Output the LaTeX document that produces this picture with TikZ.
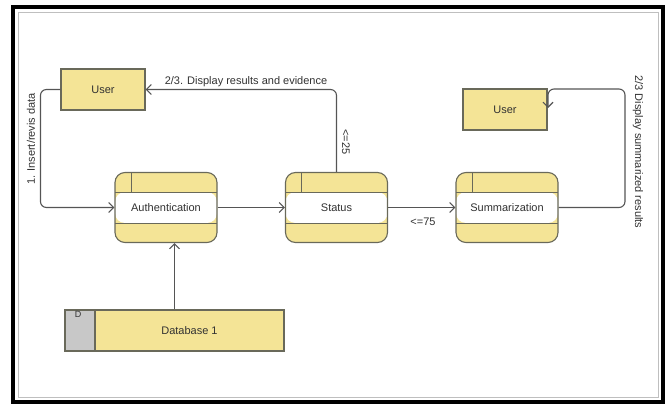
\documentclass[tikz,border=0pt]{standalone}
\usepackage{fontspec}
\setmainfont{Liberation Sans}
\usepackage{tikz}
\usetikzlibrary{arrows.meta}
\usetikzlibrary{calc}

\definecolor{boxfill}{RGB}{244,228,150}
\definecolor{boxline}{RGB}{105,105,90}
\definecolor{wire}{RGB}{85,85,85}
\definecolor{keyfill}{RGB}{200,200,200}
\definecolor{txt}{RGB}{50,50,50}

\begin{document}
\begin{tikzpicture}[x=1pt, y=-1pt,
 every node/.style={font=\fontsize{11}{13}\selectfont, text=txt},
entity/.style={rectangle, inner sep=0pt, minimum width=84pt, minimum height=41pt, draw=boxline, fill=boxfill, line width=1.1pt},
proc/.style={rectangle, inner sep=0pt, minimum width=102pt, minimum height=70pt, rounded corners=10pt, draw=boxline, fill=boxfill, line width=1.1pt,
  path picture={
   \fill[white] ([yshift=15.5pt]path picture bounding box.west) rectangle ([yshift=-15.5pt]path picture bounding box.east);
   \draw[boxline, line width=0.9pt] ([yshift=15.5pt]path picture bounding box.west) -- ([yshift=15.5pt]path picture bounding box.east);
   \draw[boxline, line width=0.9pt] ([yshift=-15.5pt]path picture bounding box.west) -- ([yshift=-15.5pt]path picture bounding box.east);
   \draw[boxline, line width=0.9pt] ([xshift=16pt]path picture bounding box.north west) -- ([xshift=16pt, yshift=15.5pt]path picture bounding box.west);
  }},
store/.style={rectangle, inner sep=0pt, minimum height=41pt, draw=boxline, line width=1.1pt},
lbl/.style={inner sep=1pt},
arrow/.style={-{Straight Barb[length=5pt, width=10pt]}, draw=wire, line width=1.1pt}]

% frame
\useasboundingbox (0,0) rectangle (668,406);
\draw[black!25, line width=0.8pt] (18,12) rectangle (658,397);
\draw[black, line width=3.5pt] (13,7) rectangle (663,402);

\node[entity] (user1) at (103, 89.5) {User};
\node[entity] (user2) at (505, 109.5) {User};

\node[proc] (auth) at (166, 207.5) {Authentication};
\node[proc] (status) at (336.5, 207.5) {Status};
\node[proc] (summ) at (507, 207.5) {Summarization};

\node[store, fill=keyfill, minimum width=30pt] (dbkey) at (80, 330.5) {};
\node[store, fill=boxfill, minimum width=189pt] (db) at (189.5, 330.5) {Database 1};
\node[lbl, anchor=north, font=\fontsize{9}{10}\selectfont] (dbid) at ([xshift=-2pt, yshift=-1pt]dbkey.north) {D};

% flows
\draw[arrow, rounded corners=6pt] (user1.west) -- ++(-20,0) |- (auth.west);
\node[lbl, rotate=90] (insert) at (31, 139) {1. Insert/revis data};

\draw (auth) edge[arrow] (status);

\draw[arrow, rounded corners=6pt] (status.north) |- (user1.east);
\node[lbl, anchor=south] (show) at (246, 88) {2/3. Display results and evidence};
\node[lbl, rotate=-90] (low) at (346, 142) {<=25};

\draw (status) edge[arrow] (summ);
\node[lbl] (high) at (423, 222) {<=75};

\coordinate (rbend) at (625, 89);
\coordinate (u2in) at (548, 108);
\draw[arrow, rounded corners=6pt] (summ.east) -| (rbend) -| (u2in);
\node[lbl, rotate=-90] (sumout) at (638, 152) {2/3 Display summarized results};

\coordinate (dbtop) at ($(dbkey.north west)!0.5!(db.north east)$);
\draw[arrow] (dbtop) -- (dbtop |- auth.south);

\end{tikzpicture}
\end{document}
